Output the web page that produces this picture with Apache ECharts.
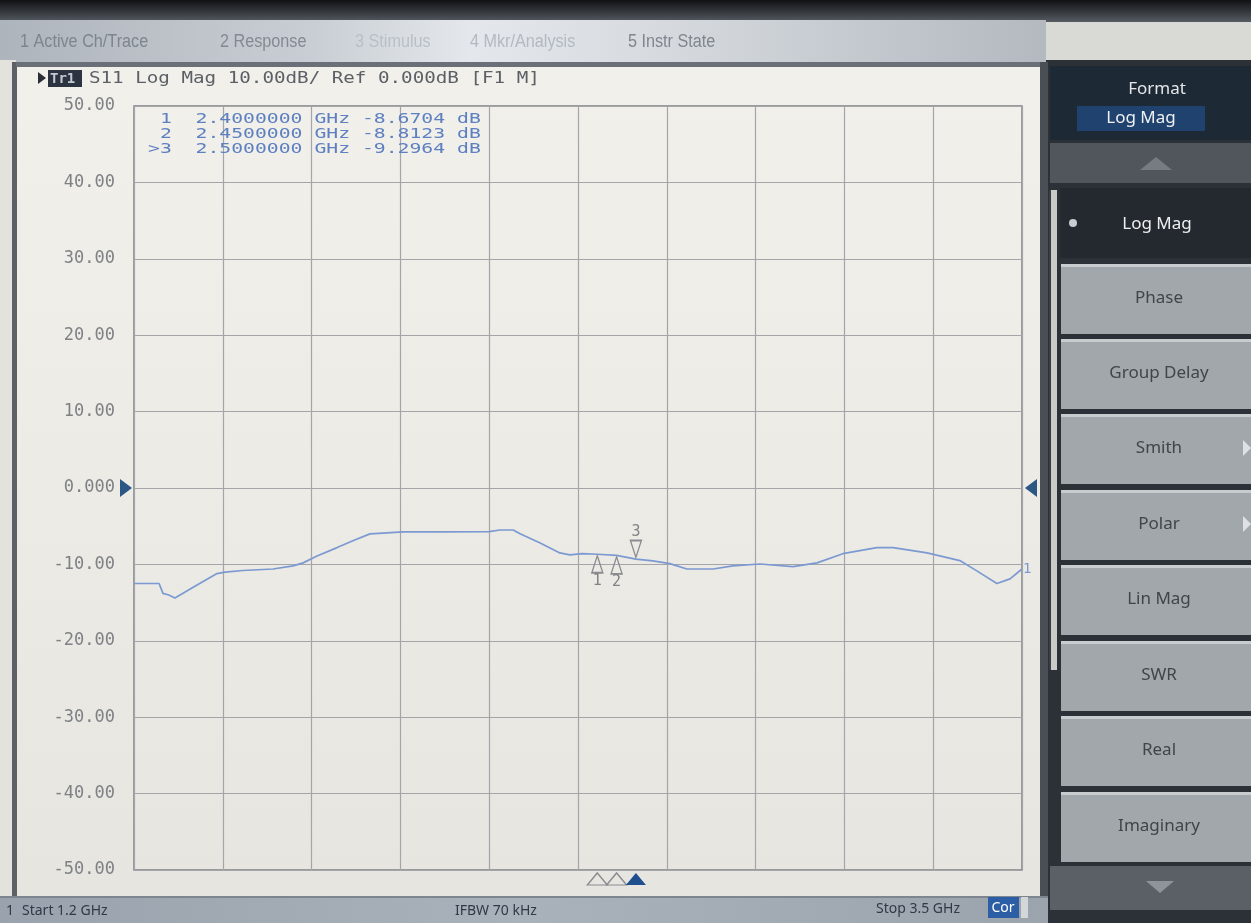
<!DOCTYPE html>
<html>
<head>
<meta charset="utf-8">
<script src="https://cdn.jsdelivr.net/npm/echarts@6/dist/echarts.min.js"></script>
<style>
html,body{margin:0;padding:0;background:#d9d9d6;}
#c{width:1251px;height:923px;}
</style>
</head>
<body>
<div id="c"></div>
<script>
// ---- data ----
const startGHz = 1.2;
const stopGHz = 3.5;
const freqGHz = [1.200,1.265,1.275,1.290,1.306,1.360,1.415,1.436,1.482,1.560,1.612,1.638,1.674,1.726,1.767,1.811,1.845,1.897,2.000,2.120,2.148,2.182,2.200,2.252,2.303,2.329,2.360,2.400,2.450,2.500,2.544,2.588,2.632,2.700,2.751,2.821,2.907,2.969,3.036,3.124,3.166,3.254,3.339,3.383,3.435,3.469,3.500];
const s11dB   = [-12.5,-12.5,-13.8,-14.0,-14.4,-12.8,-11.2,-11.0,-10.8,-10.6,-10.2,-9.8,-8.9,-7.8,-6.9,-6.0,-5.9,-5.75,-5.75,-5.7,-5.5,-5.5,-6.0,-7.2,-8.5,-8.75,-8.6,-8.67,-8.81,-9.30,-9.55,-9.9,-10.6,-10.6,-10.2,-9.95,-10.3,-9.8,-8.6,-7.8,-7.8,-8.5,-9.5,-10.85,-12.5,-11.9,-10.6];
const markerIds = ['1','2','3'];
const markerFreqGHz = [2.4, 2.45, 2.5];
const markerdB = [-8.6704, -8.8123, -9.2964];
const activeMarker = 2;
const yTicks = [50,40,30,20,10,0,-10,-20,-30,-40,-50];
const yTickLabels = ['50.00','40.00','30.00','20.00','10.00','0.000','-10.00','-20.00','-30.00','-40.00','-50.00'];
const menuItems = ['1 Active Ch/Trace','2 Response','3 Stimulus','4 Mkr/Analysis','5 Instr State'];
const softkeys = ['Phase','Group Delay','Smith','Polar','Lin Mag','SWR','Real','Imaginary'];
const ifbw = 'IFBW 70 kHz';

// ---- layout ----
const G = {left:134, top:106, width:888, height:764};
const mono = "'DejaVu Sans Mono','Liberation Mono',monospace";
const sans = "'Noto Sans','Open Sans',sans-serif";

const chart = echarts.init(document.getElementById('c'), null, {renderer:'canvas'});

const graphics = [];
function rect(x,y,w,h,fill,z,extra){graphics.push(Object.assign({type:'rect',shape:{x:x,y:y,width:w,height:h},style:{fill:fill},z:z===undefined?-10:z,silent:true},extra||{}));}
function text(x,y,t,opt){
  opt=opt||{};
  graphics.push({type:'text',x:x,y:y,z:opt.z||50,silent:true,scaleX:opt.scaleX||1,scaleY:opt.scaleY||1,
    style:{text:t,fill:opt.fill||'#333',fontSize:opt.size||16,fontFamily:opt.family||sans,fontWeight:opt.weight||'normal',
      align:opt.align||'left',verticalAlign:opt.valign||'middle',textAlign:opt.align||'left',textVerticalAlign:opt.valign||'middle'}});
}
function poly(points,fill,z){graphics.push({type:'polygon',shape:{points:points},style:{fill:fill},z:z||40,silent:true});}

// top dark band
rect(0,0,1251,22,new echarts.graphic.LinearGradient(0,0,0,1,[{offset:0,color:'#101214'},{offset:1,color:'#555b62'}]),-20);
// menu bar
rect(0,20,1046,42,new echarts.graphic.LinearGradient(0,0,1,0,[{offset:0,color:'#aeb4bb'},{offset:0.3,color:'#c9ced4'},{offset:0.45,color:'#e4e8ec'},{offset:0.6,color:'#d9dde2'},{offset:1,color:'#b3b9bf'}]),-20);
const menuX=[20,220,355,470,628];
const menuCol=['#7f858c','#848a91','#b9bfc6','#b3b9c0','#80868d'];
menuItems.forEach((m,i)=>text(menuX[i],42,m,{size:18,fill:menuCol[i],scaleX:0.9,family:"'Liberation Sans',sans-serif"}));
// left margin
rect(0,60,16,840,'#e3e2dd',-20);
// screen panel
rect(16,62,1030,836,new echarts.graphic.LinearGradient(0,0,0,1,[{offset:0,color:'#f1f0eb'},{offset:0.5,color:'#ecebe6'},{offset:1,color:'#e6e5e0'}]),-19);
rect(12,62,5,836,'#5d6166',-18);
rect(16,62,1030,5,'#6b7078',-18);
rect(1040,62,8,836,'#4a4f55',-18);
// status bar
rect(0,896,1048,27,new echarts.graphic.LinearGradient(0,0,1,0,[{offset:0,color:'#9aa3ad'},{offset:0.5,color:'#a9b1ba'},{offset:1,color:'#9ba4ad'}]),-18);
rect(0,896,1048,2,'#7d858e',-17);
text(6,911,'1',{size:14,fill:'#2f3a47'});
text(22,911,'Start '+startGHz.toFixed(1)+' GHz',{size:14,fill:'#2f3a47'});
text(455,911,ifbw,{size:14,fill:'#2f3a47'});
text(960,909,'Stop '+stopGHz.toFixed(1)+' GHz',{size:14,fill:'#2f3a47',align:'right'});
rect(988,897,31,21,'#2c5ea6',-16);
text(1003,908,'Cor',{size:14,fill:'#ffffff',align:'center'});
rect(1021,897,7,21,'#d4d7da',-16);

// right panel
rect(1046,60,205,863,'#2b3137',-20);
rect(1050,66,201,74,'#1d2935',-15);
text(1157,89,'Format',{size:17,fill:'#e4e6e8',align:'center'});
rect(1077,106,128,25,'#1f426f',-14);
text(1141,118,'Log Mag',{size:17,fill:'#eef0f2',align:'center'});
rect(1050,143,201,40,'#50565c',-15);
poly([[1140,170],[1156,157],[1172,170]],'#767c82');
rect(1060,188,191,70,'#23292f',-15);
graphics.push({type:'circle',shape:{cx:1073,cy:223,r:4},style:{fill:'#c9ccd0'},z:40,silent:true});
text(1157,224,'Log Mag',{size:17,fill:'#eceef0',align:'center'});
rect(1049,190,8,480,'#c9cbc9',-14);
rect(1049,190,2,480,'#3a3f44',-13);
const keyTop=[264,339,414,490,565,641,716,792];
softkeys.forEach((k,i)=>{
  rect(1061,keyTop[i],190,70,'#a2a7ab',-15);
  rect(1061,keyTop[i],190,3,'#c8cccf',-14);
  text(1159,keyTop[i]+34,k,{size:17,fill:'#40454a',align:'center'});
  if(k==='Smith'||k==='Polar'){poly([[1243,keyTop[i]+26],[1251,keyTop[i]+34],[1243,keyTop[i]+42]],'#dfe2e4');}
});
rect(1050,866,201,44,'#5a6065',-15);
poly([[1146,881],[1174,881],[1160,893]],'#8e9499');

// header text
poly([[38,72],[46,78],[38,84]],'#2a2f36');
rect(48,70,34,17,'#2b3440',-5);
text(50,79,'Tr1',{size:14,fill:'#c4cad1',family:mono,weight:'bold'});
text(89,79,'S11 Log Mag 10.00dB/ Ref 0.000dB [F1 M]',{size:16,fill:'#5c6066',family:mono,scaleX:1.2});

// marker table text
markerIds.forEach((id,i)=>{
  const pre=(i===activeMarker?'>':' ')+id;
  const line=pre+'  '+markerFreqGHz[i].toFixed(7)+' GHz '+markerdB[i].toFixed(4)+' dB';
  text(148,119+i*15,line,{size:14,fill:'#5e80c0',family:mono,scaleX:1.41,z:60});
});

// marker points
const upTri='path://M5,0L10,16L0,16Z';
const downTri='path://M0,0L10,0L5,16Z';
const mp=[];
markerIds.forEach((id,i)=>{
  const active=i===activeMarker;
  mp.push({coord:[markerFreqGHz[i],markerdB[i]],symbol:active?downTri:upTri,symbolSize:[11,17],
    symbolOffset:[0,active?-10:10],
    itemStyle:{color:'rgba(0,0,0,0)',borderColor:'#8a8c90',borderWidth:1.5},
    label:{show:true,position:active?'top':'bottom',distance:0,formatter:id,color:'#7f8185',fontSize:15,fontFamily:mono}});
  mp.push({coord:[markerFreqGHz[i],-50],symbol:upTri,symbolSize:[20,12],symbolOffset:[0,9],
    itemStyle:active?{color:'#1f4f8f'}:{color:'rgba(0,0,0,0)',borderColor:'#8a8c90',borderWidth:1.3},
    label:{show:false}});
});
mp.push({coord:[startGHz,0],symbol:'path://M0,0L12,9L0,18Z',symbolSize:[12,18],symbolOffset:[-8,0],itemStyle:{color:'#2c5784'},label:{show:false}});
mp.push({coord:[stopGHz,0],symbol:'path://M12,0L0,9L12,18Z',symbolSize:[12,18],symbolOffset:[9,0],itemStyle:{color:'#2c5784'},label:{show:false}});

chart.setOption({
  animation:false,
  backgroundColor:'#d9d9d6',
  graphic:{elements:graphics},
  grid:{left:G.left,top:G.top,width:G.width,height:G.height,show:true,borderColor:'#7e8084',borderWidth:1.5,backgroundColor:'rgba(0,0,0,0)'},
  xAxis:[
    {type:'value',min:startGHz,max:stopGHz,axisLine:{show:false},axisTick:{show:false},axisLabel:{show:false},splitLine:{show:false}},
    {type:'value',min:0,max:10,interval:1,position:'bottom',axisLine:{show:false},axisTick:{show:false},axisLabel:{show:false},
      splitLine:{show:true,lineStyle:{color:'#a3a5a8',width:1.2}}}
  ],
  yAxis:{type:'value',min:-50,max:50,interval:10,axisLine:{show:false},axisTick:{show:false},
    splitLine:{show:true,lineStyle:{color:'#a3a5a8',width:1.2}},
    axisLabel:{margin:19,color:'#7f8186',fontSize:17,fontFamily:mono,
      formatter:function(v){const i=yTicks.indexOf(v);return i>=0?yTickLabels[i]:'';}}},
  series:[{
    type:'line',xAxisIndex:0,data:freqGHz.map((f,i)=>[f,s11dB[i]]),showSymbol:false,
    lineStyle:{color:'#7c99d1',width:1.7},z:5,
    endLabel:{show:true,formatter:'1',color:'#7c99d1',fontSize:14,fontFamily:mono,distance:1},
    markPoint:{animation:false,data:mp}
  }]
});
</script>
</body>
</html>
